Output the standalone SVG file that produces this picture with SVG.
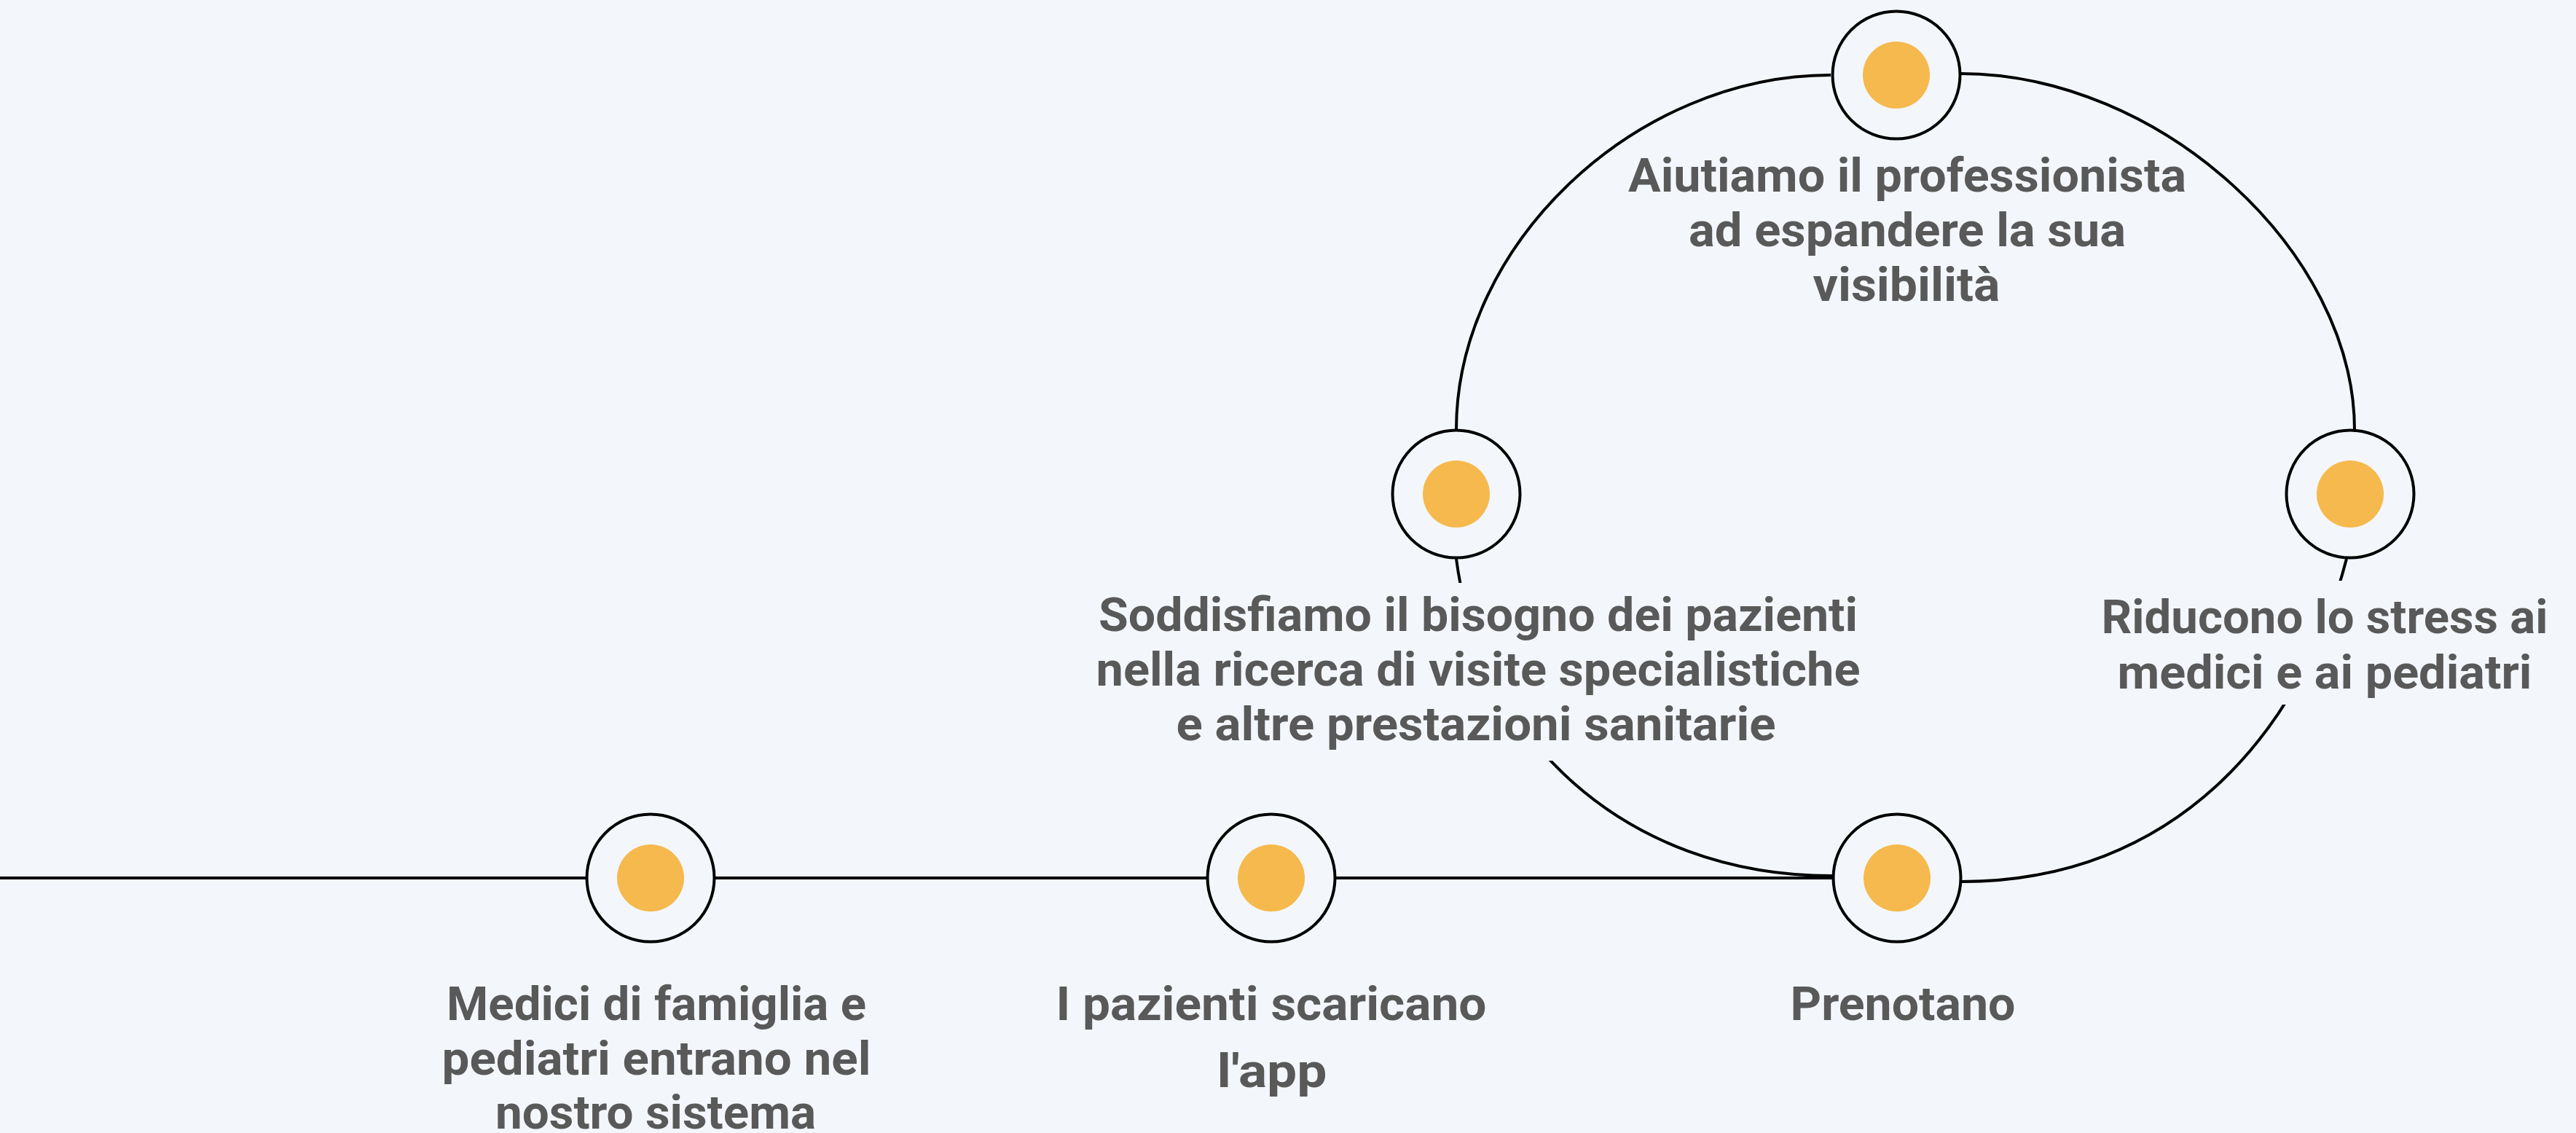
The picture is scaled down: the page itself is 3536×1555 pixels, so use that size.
<svg xmlns="http://www.w3.org/2000/svg" width="3536" height="1555" viewBox="0 0 3536 1555">
<style>
.bg{fill:#F3F7FC}
.conn{fill:none;stroke:#000;stroke-width:4}
.ring{fill:#F3F7FC;stroke:#000;stroke-width:4}
.dot{fill:#F6B94D}
.lbl{font-family:Roboto,"Liberation Sans",sans-serif;font-weight:700;font-size:64px;fill:#595959;text-anchor:middle}
</style>
<rect class="bg" x="0" y="0" width="3536" height="1555"/>
<g id="connectors">
<line class="conn" x1="0" y1="1205" x2="2516" y2="1205"/>
<path class="conn" d="M2513,103 C2245,103 1999,335 1999,590"/>
<path class="conn" d="M2691,101 C2965,101 3232,345 3232,590"/>
<path class="conn" d="M3221,767 C3159,1007 2983,1210 2693,1210"/>
<path class="conn" d="M1999,767 C2030,1007 2225,1202 2515,1202"/>
</g>
<g id="node-medici">
<circle class="ring" cx="893" cy="1205" r="87.5"/>
<circle class="dot" cx="893" cy="1205" r="46"/>
<text class="lbl" x="901" y="1400" textLength="576" lengthAdjust="spacingAndGlyphs">Medici di famiglia e</text>
<text class="lbl" x="901" y="1475" textLength="589" lengthAdjust="spacingAndGlyphs">pediatri entrano nel</text>
<text class="lbl" x="900" y="1549" textLength="440" lengthAdjust="spacingAndGlyphs">nostro sistema</text>
</g>
<g id="node-pazienti">
<circle class="ring" cx="1745" cy="1205" r="87.5"/>
<circle class="dot" cx="1745" cy="1205" r="46"/>
<text class="lbl" x="1745" y="1400" textLength="591" lengthAdjust="spacingAndGlyphs">I pazienti scaricano</text>
<text class="lbl" x="1746" y="1492" textLength="151" lengthAdjust="spacingAndGlyphs">l'app</text>
</g>
<g id="node-prenotano">
<circle class="ring" cx="2604" cy="1205" r="87.5"/>
<circle class="dot" cx="2604" cy="1205" r="46"/>
<text class="lbl" x="2612" y="1400" textLength="309" lengthAdjust="spacingAndGlyphs">Prenotano</text>
</g>
<g id="node-soddisfiamo">
<circle class="ring" cx="1999" cy="678" r="87.5"/>
<circle class="dot" cx="1999" cy="678" r="46"/>
<rect class="bg" x="1490" y="800" width="1080" height="244"/>
<text class="lbl" x="2029" y="866" textLength="1042" lengthAdjust="spacingAndGlyphs">Soddisfiamo il bisogno dei pazienti</text>
<text class="lbl" x="2029" y="941" textLength="1049" lengthAdjust="spacingAndGlyphs">nella ricerca di visite specialistiche</text>
<text class="lbl" x="2026" y="1016" textLength="823" lengthAdjust="spacingAndGlyphs">e altre prestazioni sanitarie</text>
</g>
<g id="node-aiutiamo">
<circle class="ring" cx="2603" cy="103" r="87.5"/>
<circle class="dot" cx="2603" cy="103" r="46"/>
<text class="lbl" x="2618" y="263" textLength="766" lengthAdjust="spacingAndGlyphs">Aiutiamo il professionista</text>
<text class="lbl" x="2618" y="338" textLength="600" lengthAdjust="spacingAndGlyphs">ad espandere la sua</text>
<text class="lbl" x="2617" y="413" textLength="257" lengthAdjust="spacingAndGlyphs">visibilità</text>
</g>
<g id="node-riducono">
<circle class="ring" cx="3226" cy="678" r="87.5"/>
<circle class="dot" cx="3226" cy="678" r="46"/>
<rect class="bg" x="2870" y="797" width="650" height="170"/>
<text class="lbl" x="3191" y="869" textLength="613" lengthAdjust="spacingAndGlyphs">Riducono lo stress ai</text>
<text class="lbl" x="3191" y="945" textLength="569" lengthAdjust="spacingAndGlyphs">medici e ai pediatri</text>
</g>
</svg>
